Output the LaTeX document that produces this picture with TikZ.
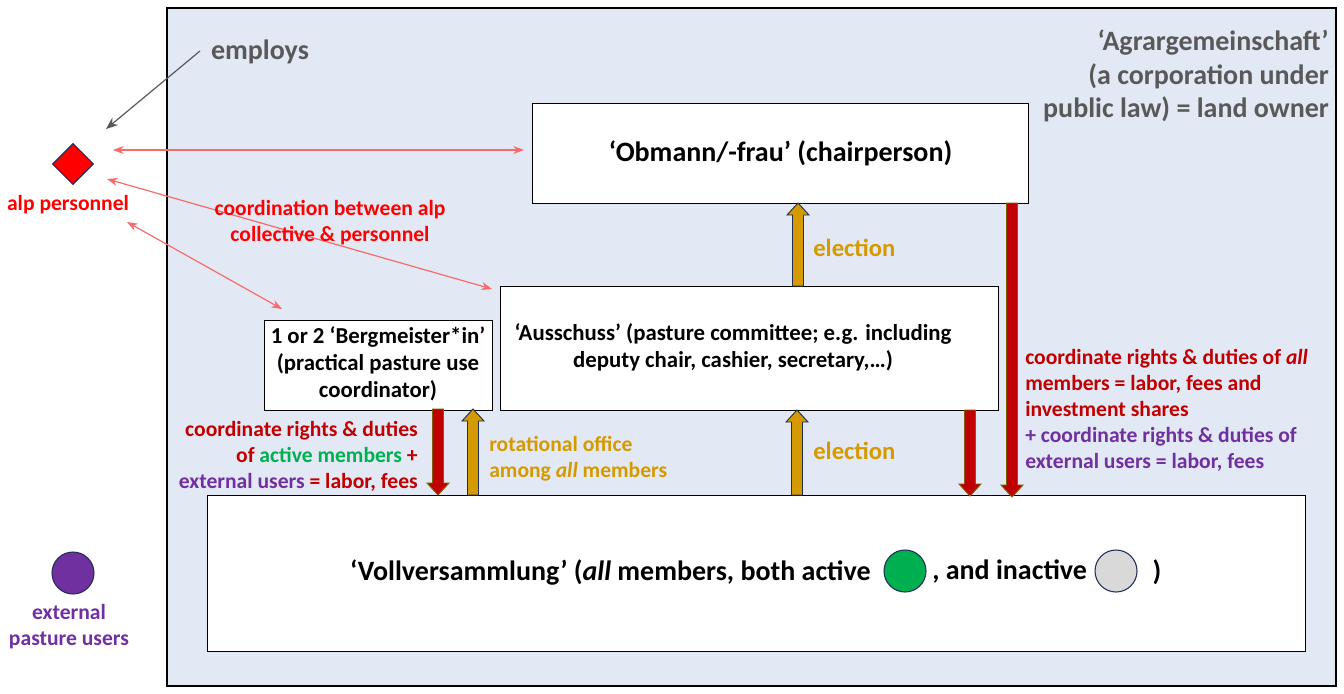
\documentclass[tikz,border=0pt]{standalone}
\usepackage{fontspec}
\setmainfont{Carlito}
\usetikzlibrary{arrows.meta,shapes.geometric}
\definecolor{bgblue}{HTML}{E2E8F4}
\definecolor{txtgray}{HTML}{595959}
\definecolor{darkred}{HTML}{C00000}
\definecolor{goldc}{HTML}{D49A00}
\definecolor{greenc}{HTML}{00B050}
\definecolor{purplec}{HTML}{7030A0}
\definecolor{pinkline}{HTML}{F76B6B}
\definecolor{navy}{HTML}{1F2F55}
\definecolor{olive}{HTML}{7F6000}
\definecolor{lgray}{HTML}{D9D9D9}
\newcommand{\blkarrow}[5]{%
  \pgfmathsetmacro\hb{#3+12*sign(#2-#3)}%
  \filldraw[fill=#4,draw=#5,line width=0.7pt,line join=miter]
    ({#1-5.5},#2) -- ({#1-5.5},\hb) -- ({#1-11},\hb) -- (#1,#3) -- ({#1+11},\hb) -- ({#1+5.5},\hb) -- ({#1+5.5},#2) -- cycle;}
\tikzset{
  box/.style={draw=black, fill=white, line width=0.8pt, inner sep=0pt},
  bigf/.style={font=\fontsize{21pt}{25.2pt}\selectfont\bfseries},
  midf/.style={font=\fontsize{17.1pt}{20.25pt}\selectfont\bfseries},
  lblf/.style={font=\fontsize{16.2pt}{19.5pt}\selectfont\bfseries},
  elf/.style={font=\fontsize{18.5pt}{20pt}\selectfont\bfseries},
  pinkarr/.style={draw=pinkline, line width=0.9pt, {Stealth[length=8pt,width=6pt]}-{Stealth[length=8pt,width=6pt]}},
  dot/.style={circle, minimum size=31.5pt, inner sep=0pt, draw=navy, line width=0.8pt},
}
\begin{document}
\begin{tikzpicture}[x=0.75pt,y=-0.75pt]
\useasboundingbox (0,0) rectangle (1344,693);
% outer frame
\draw[fill=bgblue, draw=black, line width=0.8pt] (167,8) rectangle (1336,686);
% boxes
\node[box, minimum width=372pt, minimum height=75pt, anchor=north west, bigf] (obm) at (532,103) {‘Obmann/-frau’ (chairperson)};
\node[box, minimum width=373.5pt, minimum height=93pt, anchor=north west] (aus) at (500,286) {};
\node[midf, align=center] (austxt) at (733,347) {‘Ausschuss’ (pasture committee; e.g. including\\deputy chair, cashier, secretary,…)};
\node[box, minimum width=171pt, minimum height=67.5pt, anchor=north west] (berg) at (264,320) {};
\node[midf, align=center] (bergtxt) at (378,364) {1 or 2 ‘Bergmeister*in’\\(practical pasture use\\coordinator)};
\node[box, minimum width=823.5pt, minimum height=117pt, anchor=north west] (voll) at (207,495) {};
\node[bigf, anchor=east, inner sep=0pt] (v1) at (871,572) {‘Vollversammlung’ (\textit{all} members, both active};
\node[dot, fill=greenc] (gdot) at (905,571) {};
\node[bigf, anchor=west, inner sep=0pt] (v2) at (932,572) {, and inactive};
\node[dot, fill=lgray] (ldot) at (1116,571) {};
\node[bigf] (v3) at (1157,572) {)};
% left side
\node[diamond, fill=red, draw=navy, line width=0.8pt, minimum width=31pt, minimum height=31pt, inner sep=0pt] (alp) at (73,164) {};
\node[lblf, text=red] (alptxt) at (68,205) {alp personnel};
\node[dot, fill=purplec] (ext) at (73,573) {};
\node[lblf, text=purplec, align=center] (exttxt) at (69,627) {external\\pasture users};
% employs
\node[bigf, text=txtgray] (emp) at (260,52) {employs};
\coordinate (empS) at (200,51);
\coordinate (empE) at (106,129);
\draw[draw=txtgray, line width=0.9pt, -{Stealth[length=9pt,width=7pt]}] (empS) -- (empE);
% Agrargemeinschaft
\node[bigf, text=txtgray, align=right, anchor=east, inner sep=0pt] (agr) at (1329,76) {‘Agrargemeinschaft’\\(a corporation under\\public law) = land owner};
% pink coordination arrows
\coordinate (p1a) at (113,150); \coordinate (p1b) at (524,150);
\coordinate (p2a) at (107,179); \coordinate (p2b) at (492,289);
\coordinate (p3a) at (127,222); \coordinate (p3b) at (282,309);
\draw[pinkarr] (p1a) -- (p1b);
\draw[pinkarr] (p2a) -- (p2b);
\draw[pinkarr] (p3a) -- (p3b);
\node[lblf, text=red, align=center] (coordtxt) at (330,223) {coordination between alp\\collective \& personnel};
% block arrows
\blkarrow{798}{286}{203}{goldc}{navy}
\blkarrow{797}{495}{410}{goldc}{navy}
\blkarrow{970}{410}{496}{darkred}{olive}
\blkarrow{1012}{203}{497}{darkred}{olive}
\blkarrow{438}{409}{495}{darkred}{olive}
\blkarrow{473}{495}{409}{goldc}{navy}
% labels
\node[elf, text=goldc, anchor=west, inner sep=0pt] (el1) at (813,248) {election};
\node[elf, text=goldc, anchor=west, inner sep=0pt] (el2) at (813,451) {election};
\node[lblf, text=goldc, align=left, anchor=west, inner sep=0pt] (rot) at (489,459) {rotational office\\among \textit{all} members};
\node[lblf, align=right, anchor=east, inner sep=0pt] (leftlbl) at (418,456) {\textcolor{darkred}{coordinate rights \& duties}\\\textcolor{darkred}{of} \textcolor{greenc}{active members} \textcolor{darkred}{+}\\\textcolor{purplec}{external users} \textcolor{darkred}{= labor, fees}};
\node[lblf, align=left, anchor=west, inner sep=0pt] (rightlbl) at (1025,410) {\textcolor{darkred}{coordinate rights \& duties of \textit{all}}\\\textcolor{darkred}{members = labor, fees and}\\\textcolor{darkred}{investment shares}\\\textcolor{purplec}{+ coordinate rights \& duties of}\\\textcolor{purplec}{external users = labor, fees}};
\end{tikzpicture}
\end{document}
